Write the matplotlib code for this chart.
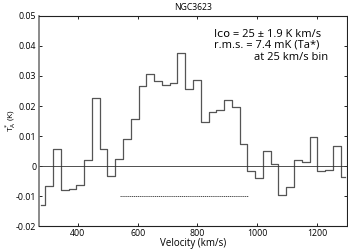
import matplotlib
matplotlib.use("Agg")
import matplotlib.pyplot as plt

plt.rcParams["font.family"] = ["Open Sans", "DejaVu Sans"]

# channel velocities (km/s) and antenna temperature (K)
velocity = [278, 304, 330, 356, 382, 408, 434, 460, 486, 512,
            538, 564, 590, 616, 642, 668, 694, 720, 746, 772,
            798, 824, 850, 876, 902, 928, 954, 980, 1006, 1032,
            1058, 1084, 1110, 1136, 1162, 1188, 1214, 1240, 1266, 1292]
ta = [-0.0130, -0.0067, 0.0056, -0.0080, -0.0077, -0.0064, 0.0019, 0.0228, 0.0056, -0.0032,
      0.0024, 0.0091, 0.0157, 0.0265, 0.0307, 0.0284, 0.0271, 0.0276, 0.0376, 0.0257,
      0.0286, 0.0147, 0.0180, 0.0186, 0.0221, 0.0197, 0.0074, -0.0017, -0.0041, 0.0050,
      0.0008, -0.0096, -0.0071, 0.0019, 0.0015, 0.0097, -0.0018, -0.0014, 0.0066, -0.0035]

# velocity range used for integration
line_range = [540, 970]
line_level = -0.01

xticks = [400, 600, 800, 1000, 1200]
yticks = [-0.02, -0.01, 0, 0.01, 0.02, 0.03, 0.04, 0.05]
yticklabels = ["-0.02", "-0.01", "0", "0.01", "0.02", "0.03", "0.04", "0.05"]

fig = plt.figure(figsize=(3.48, 2.49), dpi=100, facecolor="white")
ax = fig.add_axes([0.112, 0.092, 0.885, 0.844])

ax.step(velocity, ta, where="mid", color="#555555", linewidth=0.9)
ax.axhline(0, color="#333333", linewidth=0.6)
ax.plot(line_range, [line_level, line_level], color="#333333",
        linestyle=(0, (1.5, 0.8)), linewidth=0.6)

ax.set_xlim(270, 1300)
ax.set_ylim(-0.02, 0.05)
ax.set_xticks(xticks)
ax.set_yticks(yticks)
ax.set_yticklabels(yticklabels)
ax.tick_params(direction="in", length=2.5, width=0.6, labelsize=6.3,
               top=True, right=True, pad=2)

for side in ["top", "right", "bottom"]:
    ax.spines[side].set_linewidth(0.8)
    ax.spines[side].set_color("#222222")
ax.spines["left"].set_linewidth(1.2)
ax.spines["left"].set_color("#777777")

ax.set_title("NGC3623", fontsize=6.2, pad=4)
ax.set_xlabel("Velocity (km/s)", fontsize=7, labelpad=0)
ax.set_ylabel(r"T$_{\rm A}^{*}$ (K)", fontsize=6, va="center")
ax.yaxis.set_label_coords(-0.092, 0.5)

ax.text(0.568, 0.94, "I\u1d04\u1d0f = 25 \u00b1 1.9 K km/s\nr.m.s. = 7.4 mK (Ta*)",
        transform=ax.transAxes, fontsize=8, va="top", ha="left",
        linespacing=1.0)
ax.text(0.94, 0.83, "at 25 km/s bin", transform=ax.transAxes,
        fontsize=8, va="top", ha="right")

fig.savefig("out.png", dpi=100)
